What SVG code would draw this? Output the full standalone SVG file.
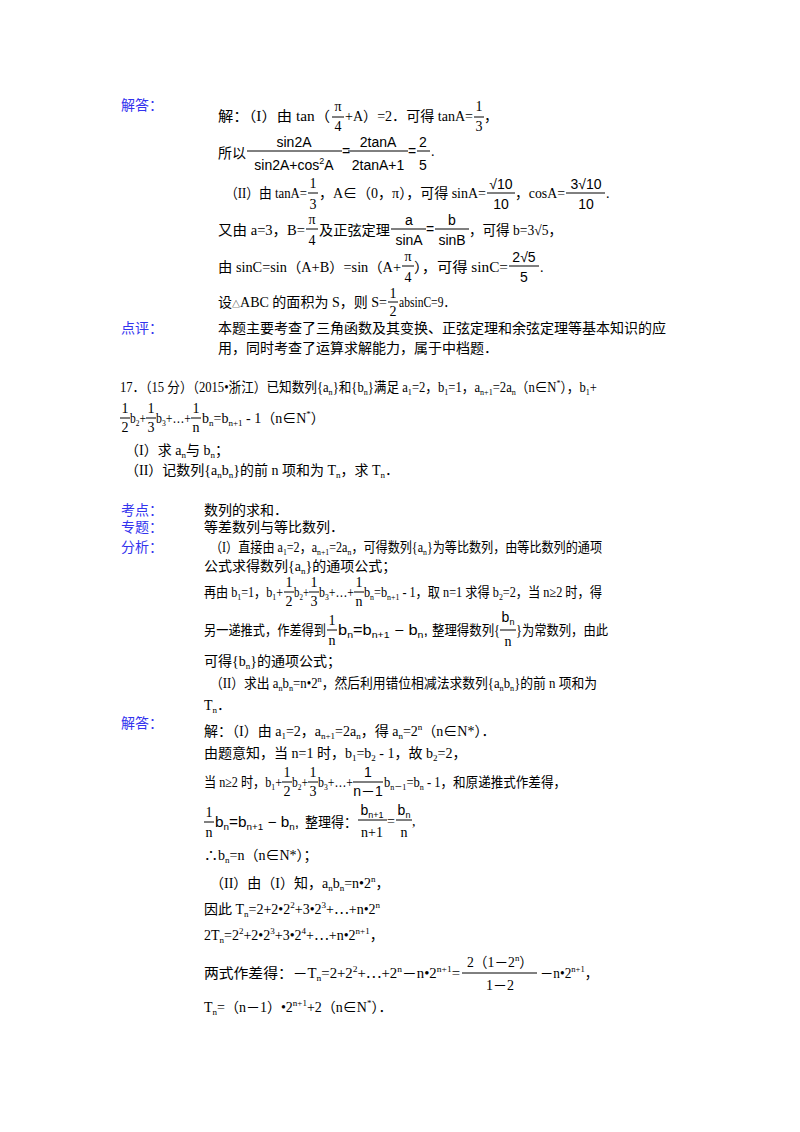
<svg xmlns="http://www.w3.org/2000/svg" width="800" height="1132" viewBox="0 0 800 1132">
<style>
text{font-family:"Liberation Serif","Noto Sans CJK SC",serif;font-size:14px;fill:#000}
.lb{font-family:"Noto Sans CJK SC",sans-serif;fill:#3333ee;font-size:14px}
.s{font-size:9px}
.m{font-family:"Liberation Sans","Noto Sans CJK SC",sans-serif;font-size:14px}
.c{text-anchor:middle}
line{stroke:#000;stroke-width:1}
</style>
<rect width="800" height="1132" fill="#fff"/>
<g id="labels">
<text class="lb" x="121" y="110">解答：</text>
<text class="lb" x="121" y="333">点评：</text>
<text class="lb" x="121" y="515">考点：</text>
<text class="lb" x="121" y="532">专题：</text>
<text class="lb" x="121" y="552">分析：</text>
<text class="lb" x="121" y="728">解答：</text>
</g>
<g id="part1">
<text x="218" y="121" textLength="112" lengthAdjust="spacingAndGlyphs">解：（I）由 tan（</text>
<text class="c" x="338" y="111">π</text><line x1="332" y1="117" x2="344" y2="117"/><text class="c" x="338" y="131">4</text>
<text x="345" y="121" textLength="128" lengthAdjust="spacingAndGlyphs">+A）=2．可得 tanA=</text>
<text class="c" x="479" y="111">1</text><line x1="474" y1="117" x2="484" y2="117"/><text class="c" x="479" y="131">3</text><text x="484" y="121">，</text>

<text x="218" y="158">所以</text>
<text class="m c" x="294" y="147">sin2A</text><line x1="247" y1="151" x2="342" y2="151"/><text class="m c" x="294" y="170">sin2A+cos<tspan class="s" dy="-6">2</tspan><tspan dy="6">A</tspan></text>
<text class="m" x="342" y="156">=</text>
<text class="m c" x="378" y="147">2tanA</text><line x1="348" y1="151" x2="408" y2="151"/><text class="m c" x="378" y="170">2tanA+1</text>
<text class="m" x="408" y="156">=</text>
<text class="m c" x="423" y="147">2</text><line x1="417" y1="151" x2="430" y2="151"/><text class="m c" x="423" y="170">5</text><text x="431" y="156">.</text>

<text x="225" y="198" textLength="82" lengthAdjust="spacingAndGlyphs">（II）由 tanA=</text>
<text class="c" x="313" y="188">1</text><line x1="308" y1="193" x2="318" y2="193"/><text class="c" x="313" y="209">3</text>
<text x="319" y="198" textLength="167" lengthAdjust="spacingAndGlyphs">，A∈（0，π），可得 sinA=</text>
<text class="m c" x="501" y="189">√10</text><line x1="487" y1="193" x2="515" y2="193"/><text class="m c" x="501" y="209">10</text>
<text x="515" y="198" textLength="50" lengthAdjust="spacingAndGlyphs">，cosA=</text>
<text class="m c" x="586" y="189">3√10</text><line x1="566" y1="193" x2="605" y2="193"/><text class="m c" x="586" y="209">10</text><text x="606" y="198">.</text>

<text x="218" y="235" textLength="87" lengthAdjust="spacingAndGlyphs">又由 a=3，B=</text>
<text class="c" x="312" y="224">π</text><line x1="306" y1="229" x2="318" y2="229"/><text class="c" x="312" y="245">4</text>
<text x="319" y="235" textLength="71" lengthAdjust="spacingAndGlyphs">及正弦定理</text>
<text class="m c" x="409" y="225">a</text><line x1="391" y1="229" x2="426" y2="229"/><text class="m c" x="409" y="245">sinA</text>
<text class="m" x="426" y="234">=</text>
<text class="m c" x="452" y="225">b</text><line x1="435" y1="229" x2="469" y2="229"/><text class="m c" x="452" y="245">sinB</text>
<text x="469" y="235" textLength="93" lengthAdjust="spacingAndGlyphs">，可得 b=3√5，</text>

<text x="218" y="272" textLength="183" lengthAdjust="spacingAndGlyphs">由 sinC=sin（A+B）=sin（A+</text>
<text class="c" x="408" y="261">π</text><line x1="402" y1="266" x2="414" y2="266"/><text class="c" x="408" y="282">4</text>
<text x="414" y="272" textLength="94" lengthAdjust="spacingAndGlyphs">），可得 sinC=</text>
<text class="m c" x="524" y="262">2√5</text><line x1="509" y1="266" x2="539" y2="266"/><text class="m c" x="524" y="282">5</text><text x="540" y="272">.</text>

<text x="218" y="307" textLength="169" lengthAdjust="spacingAndGlyphs">设<tspan font-size="8">△</tspan>ABC 的面积为 S，则 S=</text>
<text class="c" x="393" y="298">1</text><line x1="388" y1="302" x2="398" y2="302"/><text class="c" x="393" y="316">2</text>
<text x="399" y="307" textLength="56" lengthAdjust="spacingAndGlyphs">absinC=9．</text>

<text x="218" y="333">本题主要考查了三角函数及其变换、正弦定理和余弦定理等基本知识的应</text>
<text x="218" y="353">用，同时考查了运算求解能力，属于中档题．</text>
</g>
<g id="problem17">
<text x="120" y="392" textLength="477" lengthAdjust="spacingAndGlyphs">17．（15 分）（2015•浙江）已知数列{a<tspan class="s" dy="3">n</tspan><tspan dy="-3">}和{b</tspan><tspan class="s" dy="3">n</tspan><tspan dy="-3">}满足 a</tspan><tspan class="s" dy="3">1</tspan><tspan dy="-3">=2，b</tspan><tspan class="s" dy="3">1</tspan><tspan dy="-3">=1，a</tspan><tspan class="s" dy="3">n+1</tspan><tspan dy="-3">=2a</tspan><tspan class="s" dy="3">n</tspan><tspan dy="-3">（n∈N</tspan><tspan class="s" dy="-6">*</tspan><tspan dy="6">），b</tspan><tspan class="s" dy="3">1</tspan><tspan dy="-3">+</tspan></text>
<text class="c" x="125" y="413">1</text><line x1="120" y1="418" x2="130" y2="418"/><text class="c" x="125" y="432">2</text>
<text x="130" y="423" textLength="16" lengthAdjust="spacingAndGlyphs">b<tspan class="s" dy="3">2</tspan><tspan dy="-3">+</tspan></text>
<text class="c" x="151" y="413">1</text><line x1="146" y1="418" x2="156" y2="418"/><text class="c" x="151" y="432">3</text>
<text x="156" y="423" textLength="35" lengthAdjust="spacingAndGlyphs">b<tspan class="s" dy="3">3</tspan><tspan dy="-3">+…+</tspan></text>
<text class="c" x="196" y="413">1</text><line x1="191" y1="418" x2="201" y2="418"/><text class="c" x="196" y="432">n</text>
<text x="202" y="423">b<tspan class="s" dy="3">n</tspan><tspan dy="-3">=b</tspan><tspan class="s" dy="3">n+1</tspan><tspan dy="-3"> - 1（n∈N</tspan><tspan class="s" dy="-6">*</tspan><tspan dy="6">）</tspan></text>
<text x="125" y="455">（I）求 a<tspan class="s" dy="3">n</tspan><tspan dy="-3">与 b</tspan><tspan class="s" dy="3">n</tspan><tspan dy="-3">；</tspan></text>
<text x="125" y="475">（II）记数列{a<tspan class="s" dy="3">n</tspan><tspan dy="-3">b</tspan><tspan class="s" dy="3">n</tspan><tspan dy="-3">}的前 n 项和为 T</tspan><tspan class="s" dy="3">n</tspan><tspan dy="-3">，求 T</tspan><tspan class="s" dy="3">n</tspan><tspan dy="-3">．</tspan></text>
</g>
<g id="analysis">
<text x="204" y="515">数列的求和．</text>
<text x="204" y="532">等差数列与等比数列．</text>
<text x="210" y="552" textLength="392" lengthAdjust="spacingAndGlyphs">（I）直接由 a<tspan class="s" dy="3">1</tspan><tspan dy="-3">=2，a</tspan><tspan class="s" dy="3">n+1</tspan><tspan dy="-3">=2a</tspan><tspan class="s" dy="3">n</tspan><tspan dy="-3">，可得数列{a</tspan><tspan class="s" dy="3">n</tspan><tspan dy="-3">}为等比数列，由等比数列的通项</tspan></text>
<text x="204" y="571">公式求得数列{a<tspan class="s" dy="3">n</tspan><tspan dy="-3">}的通项公式；</tspan></text>
<text x="204" y="597" textLength="79" lengthAdjust="spacingAndGlyphs">再由 b<tspan class="s" dy="3">1</tspan><tspan dy="-3">=1，b</tspan><tspan class="s" dy="3">1</tspan><tspan dy="-3">+</tspan></text>
<text class="c" x="289" y="587">1</text><line x1="284" y1="592" x2="294" y2="592"/><text class="c" x="289" y="606">2</text>
<text x="294" y="597" textLength="15" lengthAdjust="spacingAndGlyphs">b<tspan class="s" dy="3">2</tspan><tspan dy="-3">+</tspan></text>
<text class="c" x="314" y="587">1</text><line x1="309" y1="592" x2="319" y2="592"/><text class="c" x="314" y="606">3</text>
<text x="319" y="597" textLength="35" lengthAdjust="spacingAndGlyphs">b<tspan class="s" dy="3">3</tspan><tspan dy="-3">+…+</tspan></text>
<text class="c" x="359" y="587">1</text><line x1="354" y1="592" x2="364" y2="592"/><text class="c" x="359" y="606">n</text>
<text x="364" y="597" textLength="238" lengthAdjust="spacingAndGlyphs">b<tspan class="s" dy="3">n</tspan><tspan dy="-3">=b</tspan><tspan class="s" dy="3">n+1</tspan><tspan dy="-3"> - 1，取 n=1 求得 b</tspan><tspan class="s" dy="3">2</tspan><tspan dy="-3">=2，当 n≥2 时，得</tspan></text>
<text x="204" y="635" textLength="122" lengthAdjust="spacingAndGlyphs">另一递推式，作差得到</text>
<text class="c" x="332" y="625">1</text><line x1="327" y1="630" x2="337" y2="630"/><text class="c" x="332" y="645">n</text>
<text class="m" x="338" y="635" textLength="90" lengthAdjust="spacingAndGlyphs">b<tspan class="s" dy="3">n</tspan><tspan dy="-3">=b</tspan><tspan class="s" dy="3">n+1</tspan><tspan dy="-3"> − b</tspan><tspan class="s" dy="3">n</tspan><tspan dy="-3">,</tspan></text>
<text x="432" y="635" textLength="68" lengthAdjust="spacingAndGlyphs">整理得数列{</text>
<text class="m c" x="508" y="622">b<tspan class="s" dy="3">n</tspan></text><line x1="500" y1="630" x2="516" y2="630"/><text class="c" x="508" y="646">n</text>
<text x="516" y="635" textLength="92" lengthAdjust="spacingAndGlyphs">}为常数列，由此</text>
<text x="204" y="666">可得{b<tspan class="s" dy="3">n</tspan><tspan dy="-3">}的通项公式；</tspan></text>
<text x="210" y="688" textLength="387" lengthAdjust="spacingAndGlyphs">（II）求出 a<tspan class="s" dy="3">n</tspan><tspan dy="-3">b</tspan><tspan class="s" dy="3">n</tspan><tspan dy="-3">=n•2</tspan><tspan class="s" dy="-6">n</tspan><tspan dy="6">，然后利用错位相减法求数列{a</tspan><tspan class="s" dy="3">n</tspan><tspan dy="-3">b</tspan><tspan class="s" dy="3">n</tspan><tspan dy="-3">}的前 n 项和为</tspan></text>
<text x="204" y="710">T<tspan class="s" dy="3">n</tspan><tspan dy="-3">．</tspan></text>
</g>
<g id="solution">
<text x="204" y="736">解：（I）由 a<tspan class="s" dy="3">1</tspan><tspan dy="-3">=2，a</tspan><tspan class="s" dy="3">n+1</tspan><tspan dy="-3">=2a</tspan><tspan class="s" dy="3">n</tspan><tspan dy="-3">，得 a</tspan><tspan class="s" dy="3">n</tspan><tspan dy="-3">=2</tspan><tspan class="s" dy="-6">n</tspan><tspan dy="6">（n∈N*）．</tspan></text>
<text x="204" y="758">由题意知，当 n=1 时，b<tspan class="s" dy="3">1</tspan><tspan dy="-3">=b</tspan><tspan class="s" dy="3">2</tspan><tspan dy="-3"> - 1，故 b</tspan><tspan class="s" dy="3">2</tspan><tspan dy="-3">=2，</tspan></text>
<text x="204" y="787" textLength="78" lengthAdjust="spacingAndGlyphs">当 n≥2 时，b<tspan class="s" dy="3">1</tspan><tspan dy="-3">+</tspan></text>
<text class="c" x="287" y="777">1</text><line x1="282" y1="782" x2="292" y2="782"/><text class="c" x="287" y="796">2</text>
<text x="292" y="787" textLength="16" lengthAdjust="spacingAndGlyphs">b<tspan class="s" dy="3">2</tspan><tspan dy="-3">+</tspan></text>
<text class="c" x="313" y="777">1</text><line x1="308" y1="782" x2="318" y2="782"/><text class="c" x="313" y="796">3</text>
<text x="318" y="787" textLength="35" lengthAdjust="spacingAndGlyphs">b<tspan class="s" dy="3">3</tspan><tspan dy="-3">+…+</tspan></text>
<text class="m c" x="368" y="777">1</text><line x1="353" y1="782" x2="383" y2="782"/><text class="m c" x="368" y="796">n－1</text>
<text x="384" y="787" textLength="182" lengthAdjust="spacingAndGlyphs">b<tspan class="s" dy="3">n－1</tspan><tspan dy="-3">=b</tspan><tspan class="s" dy="3">n</tspan><tspan dy="-3"> - 1，和原递推式作差得，</tspan></text>
<text class="c" x="209" y="817">1</text><line x1="204" y1="822" x2="214" y2="822"/><text class="c" x="209" y="837">n</text>
<text class="m" x="215" y="827" textLength="84" lengthAdjust="spacingAndGlyphs">b<tspan class="s" dy="3">n</tspan><tspan dy="-3">=b</tspan><tspan class="s" dy="3">n+1</tspan><tspan dy="-3"> − b</tspan><tspan class="s" dy="3">n</tspan><tspan dy="-3">,</tspan></text>
<text x="305" y="827" textLength="52" lengthAdjust="spacingAndGlyphs">整理得：</text>
<text class="m c" x="372" y="815">b<tspan class="s" dy="3">n+1</tspan></text><line x1="358" y1="820" x2="387" y2="820"/><text class="c" x="372" y="837">n+1</text>
<text x="387" y="826">=</text>
<text class="m c" x="404" y="815">b<tspan class="s" dy="3">n</tspan></text><line x1="396" y1="820" x2="412" y2="820"/><text class="c" x="404" y="837">n</text><text x="412" y="826">,</text>
<text x="204" y="860">∴b<tspan class="s" dy="3">n</tspan><tspan dy="-3">=n（n∈N*）；</tspan></text>
<text x="210" y="888">（II）由（I）知，a<tspan class="s" dy="3">n</tspan><tspan dy="-3">b</tspan><tspan class="s" dy="3">n</tspan><tspan dy="-3">=n•2</tspan><tspan class="s" dy="-6">n</tspan><tspan dy="6">，</tspan></text>
<text x="204" y="914">因此 T<tspan class="s" dy="3">n</tspan><tspan dy="-3">=2+2•2</tspan><tspan class="s" dy="-6">2</tspan><tspan dy="6">+3•2</tspan><tspan class="s" dy="-6">3</tspan><tspan dy="6">+⋯+n•2</tspan><tspan class="s" dy="-6">n</tspan></text>
<text x="204" y="940">2T<tspan class="s" dy="3">n</tspan><tspan dy="-3">=2</tspan><tspan class="s" dy="-6">2</tspan><tspan dy="6">+2•2</tspan><tspan class="s" dy="-6">3</tspan><tspan dy="6">+3•2</tspan><tspan class="s" dy="-6">4</tspan><tspan dy="6">+⋯+n•2</tspan><tspan class="s" dy="-6">n+1</tspan><tspan dy="6">，</tspan></text>
<text x="204" y="978" textLength="256" lengthAdjust="spacingAndGlyphs">两式作差得：－T<tspan class="s" dy="3">n</tspan><tspan dy="-3">=2+2</tspan><tspan class="s" dy="-6">2</tspan><tspan dy="6">+⋯+2</tspan><tspan class="s" dy="-6">n</tspan><tspan dy="6">－n•2</tspan><tspan class="s" dy="-6">n+1</tspan><tspan dy="6">=</tspan></text>
<text class="c" x="500" y="967" textLength="66" lengthAdjust="spacingAndGlyphs">2（1－2<tspan class="s" dy="-6">n</tspan><tspan dy="6">）</tspan></text><line x1="462" y1="973" x2="537" y2="973"/><text class="c" x="500" y="990">1－2</text>
<text x="540" y="978" textLength="58" lengthAdjust="spacingAndGlyphs">－n•2<tspan class="s" dy="-6">n+1</tspan><tspan dy="6">，</tspan></text>
<text x="204" y="1012">T<tspan class="s" dy="3">n</tspan><tspan dy="-3">=（n－1）•2</tspan><tspan class="s" dy="-6">n+1</tspan><tspan dy="6">+2（n∈N</tspan><tspan class="s" dy="-6">*</tspan><tspan dy="6">）．</tspan></text>
</g>
</svg>
